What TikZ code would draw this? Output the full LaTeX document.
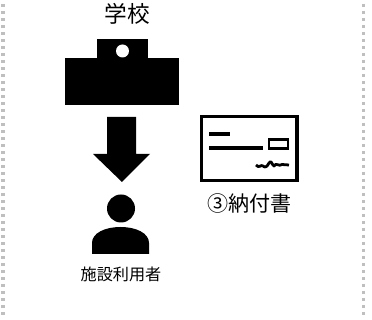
\documentclass[tikz,border=0pt]{standalone}
\usepackage{fontspec}
\setmainfont{Noto Sans CJK JP}
\begin{document}
\begin{tikzpicture}[
        x=0.75pt, y=-0.75pt,
        borderline/.style={draw=black!25, line width=2.6pt, dash pattern=on 2.6pt off 2.65pt},
        blackfill/.style={fill=black, draw=none},
        outline/.style={draw=black, fill=white, line width=2.5pt},
        slipline/.style={draw=black, line width=2.6pt},
        bigtext/.style={inner sep=0pt, font=\fontsize{17}{17}\selectfont},
        midtext/.style={inner sep=0pt, font=\fontsize{15.8}{16}\selectfont},
        smalltext/.style={inner sep=0pt, font=\fontsize{12.1}{12}\selectfont}
        ]
        \useasboundingbox (0,0) rectangle (372,320);
        % side borders
        \draw[borderline] (3,4) -- (3,318);
        \draw[borderline] (363.3,4) -- (363.3,318);
        % school
        \node[bigtext] (SCHOOL) at (127,14) {学校};
        \fill[blackfill] (97,39) rectangle (148,58);
        \fill[blackfill] (65,58) rectangle (179,105);
        \fill[white] (122.5,51) circle (6.5);
        % block arrow
        \fill[blackfill] (107,117) -- (136,117) -- (136,154) -- (150,154) -- (122,182)
            -- (93,154) -- (107,154) -- cycle;
        % user
        \fill[blackfill] (121,208.5) circle (14);
        \fill[blackfill] (92,254) -- (92,243) .. controls (92,233) and (105,227) .. (120.5,227)
            .. controls (136,227) and (149,233) .. (149,243) -- (149,254) -- cycle;
        \node[smalltext] (USER) at (121,274) {施設利用者};
        % slip
        \draw[outline] (201.5,116.5) rectangle (297,180.5);
        \draw[slipline] (209,134) -- (230,134);
        \draw[slipline] (209,148) -- (263,148);
        \draw[draw=black, line width=2pt] (269,139.5) rectangle (288,148.5);
        \draw[draw=black, line width=2.1pt, line join=round] (256,165) .. controls (259,169) and (261,164) .. (263,166)
            .. controls (265,168) and (267,167) .. (269,163)
            .. controls (271,159) and (272,165) .. (274,166)
            .. controls (276,162) and (279,167) .. (282,164.5) -- (289,165);
        \node[midtext] (SLIP) at (249.5,203) {③納付書};
    \end{tikzpicture}
\end{document}
